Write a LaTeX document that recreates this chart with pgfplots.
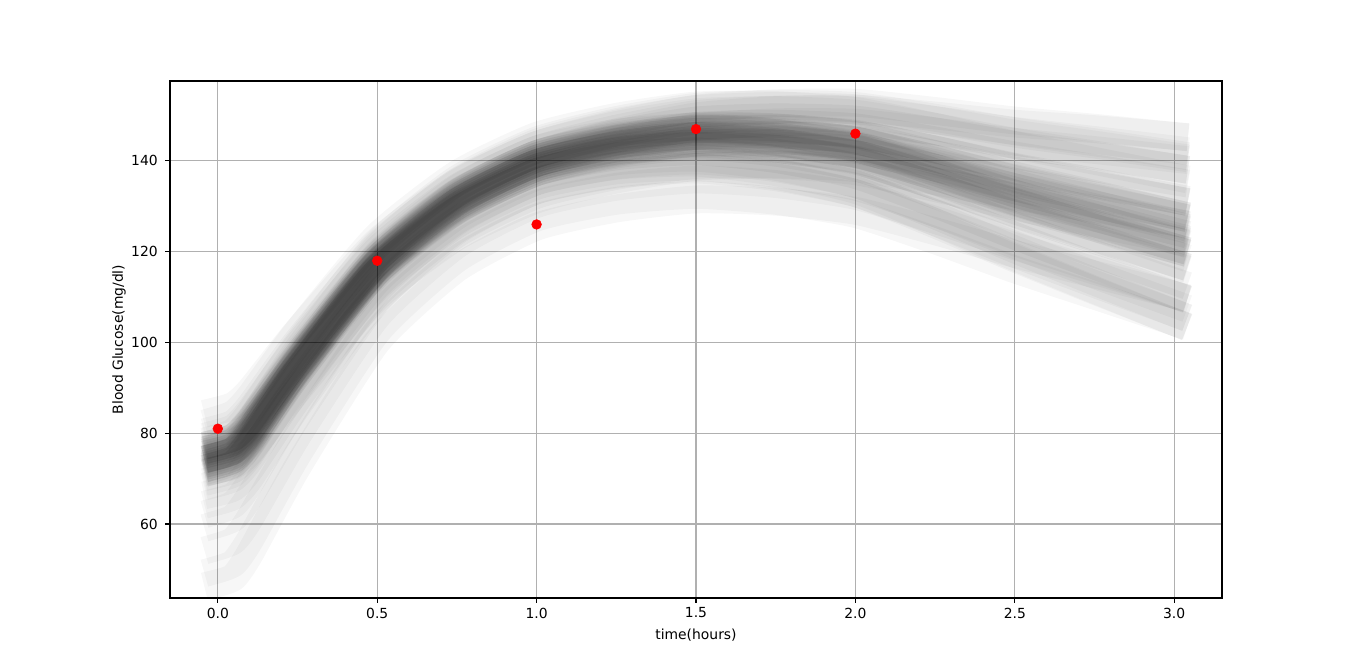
\documentclass[border=0pt]{standalone}
\usepackage{fontspec}
\setmainfont{DejaVu Sans}
\usepackage{pgfplots}
\pgfplotsset{compat=1.18}
\definecolor{gridc}{HTML}{B0B0B0}
\begin{document}
\begin{tikzpicture}
\path[use as bounding box] (-122.4pt,-53.28pt) rectangle (855.36pt,430.56pt);
\begin{axis}[
  scale only axis,
  width=757.44pt, height=372.24pt,
  xmin=-0.15, xmax=3.15, ymin=43.7, ymax=157.6,
  xtick={0,0.5,1,1.5,2,2.5,3},
  ytick={60,80,100,120,140},
  grid=major,
  major grid style={color=gridc, line width=0.8pt},
  axis line style={line width=0.8pt, black},
  tick style={line width=0.8pt, black},
  major tick length=3.5pt,
  tick align=outside,
  tick pos=left,
  ticklabel style={font=\fontsize{10}{12}\selectfont, /pgf/number format/assume math mode=true},
  xticklabel style={/pgf/number format/.cd, fixed, fixed zerofill, precision=1},
  yticklabel style={xshift=-1.8pt},
  label style={font=\fontsize{10}{12}\selectfont},
  xlabel={time(hours)},
  ylabel={Blood Glucose(mg/dl)},
  xlabel style={at={([yshift=-29.7pt]axis description cs:0.5,0)}, anchor=base},
  ylabel style={at={([xshift=-36.7pt]axis description cs:0,0.5)}, anchor=center},
  core/.style={black, opacity=0.04, line width=20pt, line cap=rect, line join=round, smooth, tension=0.35, mark=none},
  halo/.style={black, opacity=0.03, line width=20pt, line cap=rect, line join=round, smooth, tension=0.35, mark=none},
]
% core samples
\addplot[core] coordinates {(0,75) (0.05,76.2) (0.1,80) (0.25,95) (0.5,117) (0.75,131) (1,139.5) (1.25,143.5) (1.5,145.5) (1.75,145) (2,143) (2.25,138.5) (2.5,133.5) (2.75,129) (3,124.5)};
\addplot[core] coordinates {(0,76.5) (0.05,77.7) (0.1,81.4) (0.25,96.1) (0.5,117.7) (0.75,131.6) (1,140) (1.25,144.1) (1.5,146.4) (1.75,146.2) (2,144.5) (2.25,140.5) (2.5,136) (2.75,132) (3,128)};
\addplot[core] coordinates {(0,73.5) (0.05,74.7) (0.1,78.6) (0.25,93.9) (0.5,116.3) (0.75,130.4) (1,139) (1.25,142.9) (1.5,144.6) (1.75,143.8) (2,141.5) (2.25,136.5) (2.5,131) (2.75,126) (3,121)};
\addplot[core] coordinates {(0,78) (0.05,79.2) (0.1,82.8) (0.25,97.2) (0.5,118.4) (0.75,132.1) (1,140.5) (1.25,144.7) (1.5,147.2) (1.75,147.3) (2,146) (2.25,142.5) (2.5,138.5) (2.75,135) (3,131.5)};
\addplot[core] coordinates {(0,72) (0.05,73.2) (0.1,77.3) (0.25,92.9) (0.5,115.6) (0.75,129.9) (1,138.5) (1.25,142.3) (1.5,143.8) (1.75,142.7) (2,140) (2.25,134.5) (2.5,128.5) (2.75,123) (3,117.5)};
\addplot[core] coordinates {(0,76) (0.05,77.1) (0.1,80.7) (0.25,95.1) (0.5,116.4) (0.75,130.1) (1,138.5) (1.25,142.8) (1.5,145.5) (1.75,145.8) (2,144.7) (2.25,141.5) (2.5,137.9) (2.75,134.7) (3,131.5)};
\addplot[core] coordinates {(0,74) (0.05,75.3) (0.1,79.4) (0.25,95) (0.5,117.6) (0.75,131.9) (1,140.5) (1.25,144.2) (1.5,145.5) (1.75,144.2) (2,141.3) (2.25,135.5) (2.5,129.1) (2.75,123.3) (3,117.5)};
\addplot[core] coordinates {(0,77) (0.05,78.1) (0.1,81.7) (0.25,96.1) (0.5,117.4) (0.75,131.1) (1,139.5) (1.25,143.3) (1.5,145) (1.75,144.1) (2,141.6) (2.25,136.5) (2.5,130.8) (2.75,125.6) (3,120.5)};
\addplot[core] coordinates {(0,73) (0.05,74.3) (0.1,78.3) (0.25,93.9) (0.5,116.6) (0.75,130.9) (1,139.5) (1.25,143.7) (1.5,146) (1.75,145.9) (2,144.4) (2.25,140.5) (2.5,136.2) (2.75,132.4) (3,128.5)};
\addplot[core] coordinates {(0,75) (0.05,76.3) (0.1,80.4) (0.25,96) (0.5,118.6) (0.75,132.9) (1,141.5) (1.25,145.6) (1.5,147.7) (1.75,147.4) (2,145.7) (2.25,141.5) (2.5,136.8) (2.75,132.7) (3,128.5)};
\addplot[core] coordinates {(0,75) (0.05,76.1) (0.1,79.6) (0.25,94) (0.5,115.4) (0.75,129.1) (1,137.5) (1.25,141.4) (1.5,143.3) (1.75,142.6) (2,140.3) (2.25,135.5) (2.5,130.2) (2.75,125.3) (3,120.5)};
\addplot[core] coordinates {(0,77.5) (0.05,78.6) (0.1,81.8) (0.25,95.6) (0.5,116.3) (0.75,129.7) (1,138) (1.25,142) (1.5,144) (1.75,143.5) (2,141.5) (2.25,137) (2.5,132) (2.75,127.5) (3,123)};
\addplot[core] coordinates {(0,72.5) (0.05,73.9) (0.1,78.2) (0.25,94.4) (0.5,117.7) (0.75,132.3) (1,141) (1.25,145) (1.5,147) (1.75,146.5) (2,144.5) (2.25,140) (2.5,135) (2.75,130.5) (3,126)};
\addplot[core] coordinates {(0,75.5) (0.05,76.7) (0.1,80.6) (0.25,95.8) (0.5,117.9) (0.75,132) (1,140.5) (1.25,144.9) (1.5,147.7) (1.75,148.2) (2,147.4) (2.25,144.5) (2.5,141.2) (2.75,138.4) (3,135.5)};
\addplot[core] coordinates {(0,74.5) (0.05,75.7) (0.1,79.4) (0.25,94.2) (0.5,116.1) (0.75,130) (1,138.5) (1.25,142.1) (1.5,143.3) (1.75,141.8) (2,138.6) (2.25,132.5) (2.5,125.8) (2.75,119.6) (3,113.5)};
\addplot[core] coordinates {(0,76) (0.05,77.2) (0.1,81.2) (0.25,96.3) (0.5,118.4) (0.75,132.5) (1,141) (1.25,144.8) (1.5,146.4) (1.75,145.4) (2,142.8) (2.25,137.5) (2.5,131.7) (2.75,126.3) (3,121)};
\addplot[core] coordinates {(0,74) (0.05,75.2) (0.1,78.9) (0.25,93.7) (0.5,115.6) (0.75,129.5) (1,138) (1.25,142.2) (1.5,144.6) (1.75,144.6) (2,143.2) (2.25,139.5) (2.5,135.4) (2.75,131.7) (3,128)};
\addplot[core] coordinates {(0,78) (0.05,79.1) (0.1,82.6) (0.25,96.7) (0.5,117.6) (0.75,131.2) (1,139.5) (1.25,143.5) (1.5,145.6) (1.75,145.2) (2,143.3) (2.25,139) (2.5,134.2) (2.75,129.8) (3,125.5)};
\addplot[core] coordinates {(0,72) (0.05,73.3) (0.1,77.5) (0.25,93.4) (0.5,116.4) (0.75,130.9) (1,139.5) (1.25,143.5) (1.5,145.4) (1.75,144.8) (2,142.7) (2.25,138) (2.5,132.8) (2.75,128.2) (3,123.5)};
\addplot[core] coordinates {(0,75) (0.05,76.2) (0.1,80.1) (0.25,95.3) (0.5,117.4) (0.75,131.5) (1,140) (1.25,144.3) (1.5,146.8) (1.75,147) (2,145.9) (2.25,142.5) (2.5,138.7) (2.75,135.4) (3,132)};
\addplot[core] coordinates {(0,75) (0.05,76.2) (0.1,79.9) (0.25,94.8) (0.5,116.6) (0.75,130.5) (1,139) (1.25,142.7) (1.5,144.2) (1.75,143) (2,140.1) (2.25,134.5) (2.5,128.3) (2.75,122.6) (3,117)};
\addplot[core] coordinates {(0,76.5) (0.05,77.6) (0.1,80.9) (0.25,94.8) (0.5,115.7) (0.75,129.2) (1,137.5) (1.25,141.7) (1.5,144) (1.75,143.9) (2,142.4) (2.25,138.5) (2.5,134.2) (2.75,130.4) (3,126.5)};
\addplot[core] coordinates {(0,73.5) (0.05,74.8) (0.1,79.1) (0.25,95.2) (0.5,118.3) (0.75,132.8) (1,141.5) (1.25,145.3) (1.5,147) (1.75,146.1) (2,143.6) (2.25,138.5) (2.5,132.8) (2.75,127.6) (3,122.5)};
\addplot[core] coordinates {(0,77) (0.05,78.2) (0.1,82.1) (0.25,97.1) (0.5,119) (0.75,133) (1,141.5) (1.25,146) (1.5,148.9) (1.75,149.6) (2,149.1) (2.25,146.5) (2.5,143.5) (2.75,141.1) (3,138.5)};
\addplot[core] coordinates {(0,73) (0.05,74.2) (0.1,77.9) (0.25,92.9) (0.5,115) (0.75,129) (1,137.5) (1.25,141) (1.5,142.1) (1.75,140.4) (2,136.9) (2.25,130.5) (2.5,123.5) (2.75,116.9) (3,110.5)};
% wider, fainter samples
\addplot[halo] coordinates {(0,80) (0.05,81.2) (0.1,84.9) (0.25,99.3) (0.5,120.4) (0.75,134.1) (1,142.5) (1.25,147.1) (1.5,150.3) (1.75,151.3) (2,151.1) (2.25,149) (2.5,146.6) (2.75,144.6) (3,142.5)};
\addplot[halo] coordinates {(0,70) (0.05,71.2) (0.1,75.2) (0.25,90.8) (0.5,113.6) (0.75,127.9) (1,136.5) (1.25,139.9) (1.5,140.7) (1.75,138.7) (2,134.9) (2.25,128) (2.5,120.5) (2.75,113.4) (3,106.5)};
\addplot[halo] coordinates {(0,81) (0.05,82.2) (0.1,85.9) (0.25,100.3) (0.5,121.4) (0.75,135.1) (1,143.5) (1.25,148.2) (1.5,151.5) (1.75,152.7) (2,152.8) (2.25,151) (2.5,148.9) (2.75,147.3) (3,145.5)};
\addplot[halo] coordinates {(0,69) (0.05,70.2) (0.1,74.1) (0.25,89.7) (0.5,112.6) (0.75,126.9) (1,135.5) (1.25,139) (1.5,140.1) (1.75,138.4) (2,134.9) (2.25,128.5) (2.5,121.5) (2.75,114.9) (3,108.5)};
\addplot[halo] coordinates {(0,79) (0.05,80.3) (0.1,84.4) (0.25,99.7) (0.5,121.8) (0.75,136) (1,144.5) (1.25,149) (1.5,151.9) (1.75,152.6) (2,152.1) (2.25,149.5) (2.5,146.5) (2.75,144.1) (3,141.5)};
\addplot[halo] coordinates {(0,71) (0.05,72.1) (0.1,75.6) (0.25,90.3) (0.5,112.2) (0.75,126) (1,134.5) (1.25,137.9) (1.5,138.7) (1.75,136.7) (2,132.9) (2.25,126) (2.5,118.5) (2.75,111.4) (3,104.5)};
\addplot[halo] coordinates {(0,83) (0.05,84.3) (0.1,88) (0.25,102.4) (0.5,123.4) (0.75,137.1) (1,145.5) (1.25,149.7) (1.5,152.2) (1.75,152.3) (2,151) (2.25,147.5) (2.5,143.5) (2.75,140) (3,136.5)};
\addplot[halo] coordinates {(0,67) (0.05,68.1) (0.1,72) (0.25,87.6) (0.5,110.6) (0.75,124.9) (1,133.5) (1.25,137.2) (1.5,138.5) (1.75,137.2) (2,134.3) (2.25,128.5) (2.5,122.1) (2.75,116.3) (3,110.5)};
\addplot[halo] coordinates {(0,78) (0.05,79.2) (0.1,83) (0.25,97.7) (0.5,119.2) (0.75,133.1) (1,141.5) (1.25,146.3) (1.5,149.8) (1.75,151.2) (2,151.5) (2.25,150) (2.5,148.2) (2.75,147) (3,145.5)};
\addplot[halo] coordinates {(0,65) (0.05,66.2) (0.1,70.1) (0.25,86) (0.5,109.4) (0.75,123.9) (1,132.5) (1.25,136.7) (1.5,139.1) (1.75,139.1) (2,137.7) (2.25,134) (2.5,129.9) (2.75,126.2) (3,122.5)};
\addplot[halo] coordinates {(0,60) (0.05,61.4) (0.1,66.1) (0.25,83.8) (0.5,109.2) (0.75,124.6) (1,133.5) (1.25,137) (1.5,138.1) (1.75,136.4) (2,132.9) (2.25,126.5) (2.5,119.5) (2.75,112.9) (3,106.5)};
\addplot[halo] coordinates {(0,55) (0.05,56.4) (0.1,61.2) (0.25,79.5) (0.5,105.8) (0.75,121.5) (1,130.5) (1.25,134.3) (1.5,135.9) (1.75,134.9) (2,132.3) (2.25,127) (2.5,121.2) (2.75,115.8) (3,110.5)};
\addplot[halo] coordinates {(0,50) (0.05,51.4) (0.1,56.4) (0.25,75.3) (0.5,102.4) (0.75,118.4) (1,127.5) (1.25,131.2) (1.5,132.5) (1.75,131.2) (2,128.3) (2.25,122.5) (2.5,116.1) (2.75,110.3) (3,104.5)};
\addplot[halo] coordinates {(0,47) (0.05,48.3) (0.1,53.4) (0.25,72.6) (0.5,100.2) (0.75,116.3) (1,125.5) (1.25,129.5) (1.5,131.5) (1.75,131) (2,129) (2.25,124.5) (2.5,119.5) (2.75,115) (3,110.5)};
\addplot[halo] coordinates {(0,85) (0.05,86.1) (0.1,89.3) (0.25,102.5) (0.5,122.2) (0.75,135.3) (1,143.5) (1.25,147.9) (1.5,150.7) (1.75,151.2) (2,150.4) (2.25,147.5) (2.5,144.2) (2.75,141.4) (3,138.5)};
\addplot[halo] coordinates {(0,63) (0.05,64.4) (0.1,69) (0.25,86.4) (0.5,111.4) (0.75,126.6) (1,135.5) (1.25,138.9) (1.5,139.6) (1.75,137.5) (2,133.6) (2.25,126.5) (2.5,118.8) (2.75,111.6) (3,104.5)};
\addplot[halo] coordinates {(0,77) (0.05,78.3) (0.1,82.6) (0.25,98.4) (0.5,121) (0.75,135.4) (1,144) (1.25,148.5) (1.5,151.4) (1.75,152.1) (2,151.6) (2.25,149) (2.5,146) (2.75,143.6) (3,141)};
\addplot[halo] coordinates {(0,72) (0.05,72.9) (0.1,75.9) (0.25,89.4) (0.5,110) (0.75,123.3) (1,131.5) (1.25,135.9) (1.5,138.7) (1.75,139.2) (2,138.4) (2.25,135.5) (2.5,132.2) (2.75,129.4) (3,126.5)};
\addplot[halo] coordinates {(0,75) (0.05,76.4) (0.1,80.6) (0.25,96.5) (0.5,119.4) (0.75,133.9) (1,142.5) (1.25,146.2) (1.5,147.5) (1.75,146.2) (2,143.3) (2.25,137.5) (2.5,131.1) (2.75,125.3) (3,119.5)};
\addplot[halo] coordinates {(0,73) (0.05,74.3) (0.1,78.3) (0.25,93.9) (0.5,116.6) (0.75,130.9) (1,139.5) (1.25,144.1) (1.5,147.4) (1.75,148.5) (2,148.4) (2.25,146.5) (2.5,144.2) (2.75,142.4) (3,140.5)};
% observations
\addplot[only marks, mark=*, mark size=3.5pt, color=red, mark options={fill=red, draw=red}] coordinates {(0,81) (0.5,118) (1,126) (1.5,147) (2,146)};
\end{axis}
\end{tikzpicture}
\end{document}
